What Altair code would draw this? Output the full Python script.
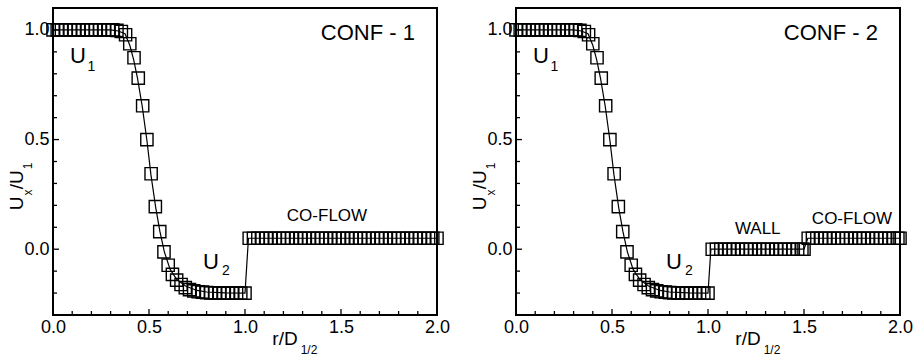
import altair as alt
import pandas as pd

FONT = "Liberation Sans"

# ---- data ----
r_jet = [0.000, 0.022, 0.044, 0.067, 0.089, 0.111, 0.133, 0.156, 0.178, 0.200,
         0.222, 0.244, 0.267, 0.289, 0.311, 0.333, 0.356, 0.378, 0.400, 0.422,
         0.444, 0.467, 0.489, 0.511, 0.533, 0.556, 0.578, 0.600, 0.622, 0.644,
         0.667, 0.689, 0.711, 0.733, 0.756, 0.778, 0.800, 0.822, 0.844, 0.867,
         0.889, 0.911, 0.933, 0.956, 0.978, 1.000]
u_jet = [1.000, 1.000, 1.000, 1.000, 1.000, 1.000, 1.000, 1.000, 1.000, 1.000,
         1.000, 1.000, 1.000, 1.000, 1.000, 0.998, 0.993, 0.978, 0.937, 0.873,
         0.780, 0.654, 0.500, 0.344, 0.194, 0.080, -0.012, -0.073, -0.115, -0.141,
         -0.161, -0.175, -0.184, -0.190, -0.194, -0.196, -0.198, -0.199, -0.199, -0.200,
         -0.200, -0.200, -0.200, -0.200, -0.200, -0.200]

r_coflow1 = [1.022, 1.044, 1.067, 1.089, 1.111, 1.133, 1.156, 1.178, 1.200, 1.222,
             1.244, 1.267, 1.289, 1.311, 1.333, 1.356, 1.378, 1.400, 1.422, 1.444,
             1.467, 1.489, 1.511, 1.533, 1.556, 1.578, 1.600, 1.622, 1.644, 1.667,
             1.689, 1.711, 1.733, 1.756, 1.778, 1.800, 1.822, 1.844, 1.867, 1.889,
             1.911, 1.933, 1.956, 1.978, 2.000]
u_coflow1 = [0.05, 0.05, 0.05, 0.05, 0.05, 0.05, 0.05, 0.05, 0.05, 0.05,
             0.05, 0.05, 0.05, 0.05, 0.05, 0.05, 0.05, 0.05, 0.05, 0.05,
             0.05, 0.05, 0.05, 0.05, 0.05, 0.05, 0.05, 0.05, 0.05, 0.05,
             0.05, 0.05, 0.05, 0.05, 0.05, 0.05, 0.05, 0.05, 0.05, 0.05,
             0.05, 0.05, 0.05, 0.05, 0.05]

r_wall = [1.022, 1.044, 1.067, 1.089, 1.111, 1.133, 1.156, 1.178, 1.200, 1.222,
          1.244, 1.267, 1.289, 1.311, 1.333, 1.356, 1.378, 1.400, 1.422, 1.444,
          1.467, 1.489, 1.500]
u_wall = [0.0, 0.0, 0.0, 0.0, 0.0, 0.0, 0.0, 0.0, 0.0, 0.0,
          0.0, 0.0, 0.0, 0.0, 0.0, 0.0, 0.0, 0.0, 0.0, 0.0,
          0.0, 0.0, 0.0]
r_coflow2 = [1.522, 1.544, 1.567, 1.589, 1.611, 1.633, 1.656, 1.678, 1.700, 1.722,
             1.744, 1.767, 1.789, 1.811, 1.833, 1.856, 1.878, 1.900, 1.922, 1.944,
             1.967, 1.989, 2.000]
u_coflow2 = [0.05, 0.05, 0.05, 0.05, 0.05, 0.05, 0.05, 0.05, 0.05, 0.05,
             0.05, 0.05, 0.05, 0.05, 0.05, 0.05, 0.05, 0.05, 0.05, 0.05,
             0.05, 0.05, 0.05]

# solid curve
r_line_jet = [0.0, 0.30, 0.34, 0.375, 0.40, 0.42, 0.44, 0.465, 0.49, 0.51,
              0.535, 0.557, 0.58, 0.61, 0.645, 0.69, 0.75, 0.80, 0.90, 1.0]
u_line_jet = [1.0, 1.0, 0.995, 0.983, 0.93, 0.865, 0.78, 0.65, 0.49, 0.34,
              0.19, 0.08, -0.012, -0.092, -0.138, -0.168, -0.188, -0.195, -0.199, -0.2]
r_line1_tail = [1.018, 2.0]
u_line1_tail = [0.05, 0.05]
r_line2_tail = [1.015, 1.5, 1.52, 2.0]
u_line2_tail = [0.0, 0.0, 0.05, 0.05]

x_major = [0, 0.5, 1.0, 1.5, 2.0]
x_minor = [0.1, 0.2, 0.3, 0.4, 0.6, 0.7, 0.8, 0.9, 1.1, 1.2, 1.3, 1.4, 1.6, 1.7, 1.8, 1.9]
y_major = [0.0, 0.5, 1.0]
y_minor = [-0.2, -0.1, 0.1, 0.2, 0.3, 0.4, 0.6, 0.7, 0.8, 0.9]

W, H = 384, 307
xs = alt.Scale(domain=[0, 2], nice=False, zero=False)
ys = alt.Scale(domain=[-0.3, 1.1], nice=False, zero=False)


def df_xy(r, u):
    return pd.DataFrame({"r": r, "u": u, "i": list(range(len(r)))})


def lab_axis(orient, values, pad):
    return alt.Axis(orient=orient, values=values, format=".1f", ticks=False, tickSize=0,
                    domain=False, grid=False, labelFont=FONT, labelFontSize=18,
                    labelColor="black", labelPadding=pad, labelFlush=False,
                    labelOverlap=False, title=None)


AX = lab_axis("bottom", x_major, 3)
AY = lab_axis("left", y_major, 4)

one = alt.Data(values=[{}])


def txt_data(s, r, u, size, align="left"):
    return alt.Chart(one).mark_text(text=s, font=FONT, fontSize=size, color="black",
                                    align=align, baseline="middle").encode(
        x=alt.XDatum(r, scale=xs, axis=AX), y=alt.YDatum(u, scale=ys, axis=AY))


def txt_px(s, x, y, size, angle=0):
    return alt.Chart(one).mark_text(text=s, font=FONT, fontSize=size, color="black",
                                    align="center", baseline="middle", angle=angle).encode(
        x=alt.value(x), y=alt.value(y))


def x_ticks(values, size):
    return alt.Chart(pd.DataFrame({"v": values})).mark_rule(
        color="black", strokeWidth=1.3).encode(
        x=alt.X("v:Q", scale=xs, axis=AX), y=alt.value(H), y2=alt.value(H - size))


def y_ticks(values, size):
    return alt.Chart(pd.DataFrame({"v": values})).mark_rule(
        color="black", strokeWidth=1.3).encode(
        y=alt.Y("v:Q", scale=ys, axis=AY), x=alt.value(0), x2=alt.value(size))


def panel(pts, line, extra):
    line_layer = alt.Chart(line).mark_line(color="black", strokeWidth=1.2).encode(
        x=alt.X("r:Q", scale=xs, axis=AX),
        y=alt.Y("u:Q", scale=ys, axis=AY),
        order="i:Q")
    pts_layer = alt.Chart(pts).mark_point(shape="square", size=150, filled=False,
                                          color="black", strokeWidth=1.4, opacity=1).encode(
        x=alt.X("r:Q", scale=xs, axis=AX), y=alt.Y("u:Q", scale=ys, axis=AY))
    common = [
        x_ticks(x_major, 6), x_ticks(x_minor, 4),
        y_ticks(y_major, 6), y_ticks(y_minor, 4),
        txt_data("U", 0.089, 0.879, 22),
        txt_data("1", 0.180, 0.831, 14),
        txt_data("U", 0.781, -0.057, 22),
        txt_data("2", 0.880, -0.099, 14),
        # y title pieces (rotated)
        txt_px("U", -36, 195.3, 19, 270),
        txt_px("x", -25, 184.5, 12, 270),
        txt_px("/U", -36, 171.7, 19, 270),
        txt_px("1", -25, 158, 12, 270),
        # x title pieces
        txt_px("r/D", 232, 331, 19),
        txt_px("1/2", 256, 342, 12),
    ]
    return alt.layer(line_layer, pts_layer, *common, *extra).properties(width=W, height=H)


pts1 = df_xy(r_jet + r_coflow1, u_jet + u_coflow1)
line1 = df_xy(r_line_jet + r_line1_tail, u_line_jet + u_line1_tail)
pts2 = df_xy(r_jet + r_wall + r_coflow2, u_jet + u_wall + u_coflow2)
line2 = df_xy(r_line_jet + r_line2_tail, u_line_jet + u_line2_tail)

p1 = panel(pts1, line1, [
    txt_data("CONF - 1", 1.885, 0.988, 22, "right"),
    txt_data("CO-FLOW", 1.427, 0.152, 17, "center"),
])
p2 = panel(pts2, line2, [
    txt_data("CONF - 2", 1.885, 0.988, 22, "right"),
    txt_data("WALL", 1.259, 0.092, 17, "center"),
    txt_data("CO-FLOW", 1.75, 0.139, 17, "center"),
])

chart = alt.hconcat(p1, p2, spacing=79, bounds="flush").properties(
    padding={"left": 7, "top": 7, "right": 0, "bottom": 0},
    background="white",
).configure_view(stroke="black", strokeWidth=2)

chart.save("out.html", embed_options={"renderer": "svg", "actions": False})
